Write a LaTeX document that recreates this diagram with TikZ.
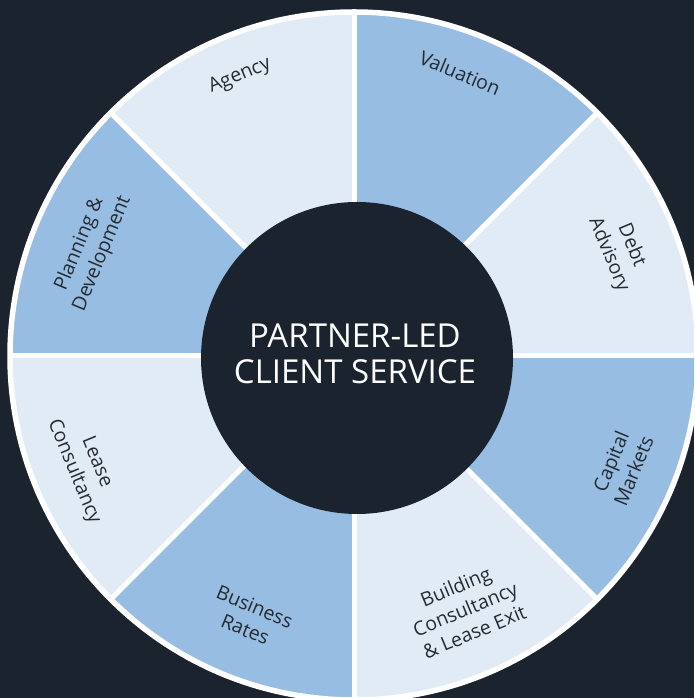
\documentclass[tikz,border=0pt]{standalone}
\usepackage{fontspec}
\setmainfont{Open Sans}
\definecolor{bg}{HTML}{1B242E}
\definecolor{lightseg}{HTML}{E1EBF6}
\definecolor{midseg}{HTML}{97BDE3}
\definecolor{labeltext}{HTML}{262B31}
\tikzset{
  seglabel/.style={text=labeltext, font=\fontsize{19.5}{24.5}\selectfont, align=center, inner sep=0pt},
  centertext/.style={text=white, font=\fontsize{33}{36}\selectfont, align=center, inner sep=0pt},
  sepline/.style={white, line width=5pt},
}
\begin{document}
\begin{tikzpicture}[x=1pt,y=1pt]
\useasboundingbox (0,0) rectangle (694,698);
\clip (0,0) rectangle (694,698);
\fill[bg] (0,0) rectangle (694,698);
\coordinate (c) at (354,342);
% sectors
\foreach \a/\col in {0/lightseg,45/midseg,90/lightseg,135/midseg,180/lightseg,225/midseg,270/lightseg,315/midseg}{
  \fill[\col] (c) -- ++(\a:346) arc[start angle=\a, end angle=\a+45, radius=346] -- cycle;
}
% separators
\foreach \a in {0,45,...,315}{
  \draw[sepline] (c) -- ++(\a:346);
}
\draw[white, line width=5.5pt] (c) circle[radius=344];
% center
\fill[bg] (357,340) circle[radius=156];
\node[centertext] (hub) at (355,344) {PARTNER-LED\\CLIENT SERVICE};
% labels
\node[seglabel, rotate=-22.5] (valuation) at (460,625) {Valuation};
\node[seglabel, rotate=22.5] (agency) at (240,622) {Agency};
\node[seglabel, rotate=-67.5] (debt) at (620,448) {Debt\\Advisory};
\node[seglabel, rotate=67.5] (capital) at (622,232) {Capital\\Markets};
\node[seglabel, rotate=22.5] (building) at (465,89) {Building\\Consultancy\\\& Lease Exit};
\node[seglabel, rotate=-22.5] (business) at (250,80) {Business\\Rates};
\node[seglabel, rotate=-67.5] (lease) at (85,231) {Lease\\Consultancy};
\node[seglabel, rotate=67.5] (planning) at (91,449) {Planning \&\\Development};
\end{tikzpicture}
\end{document}
